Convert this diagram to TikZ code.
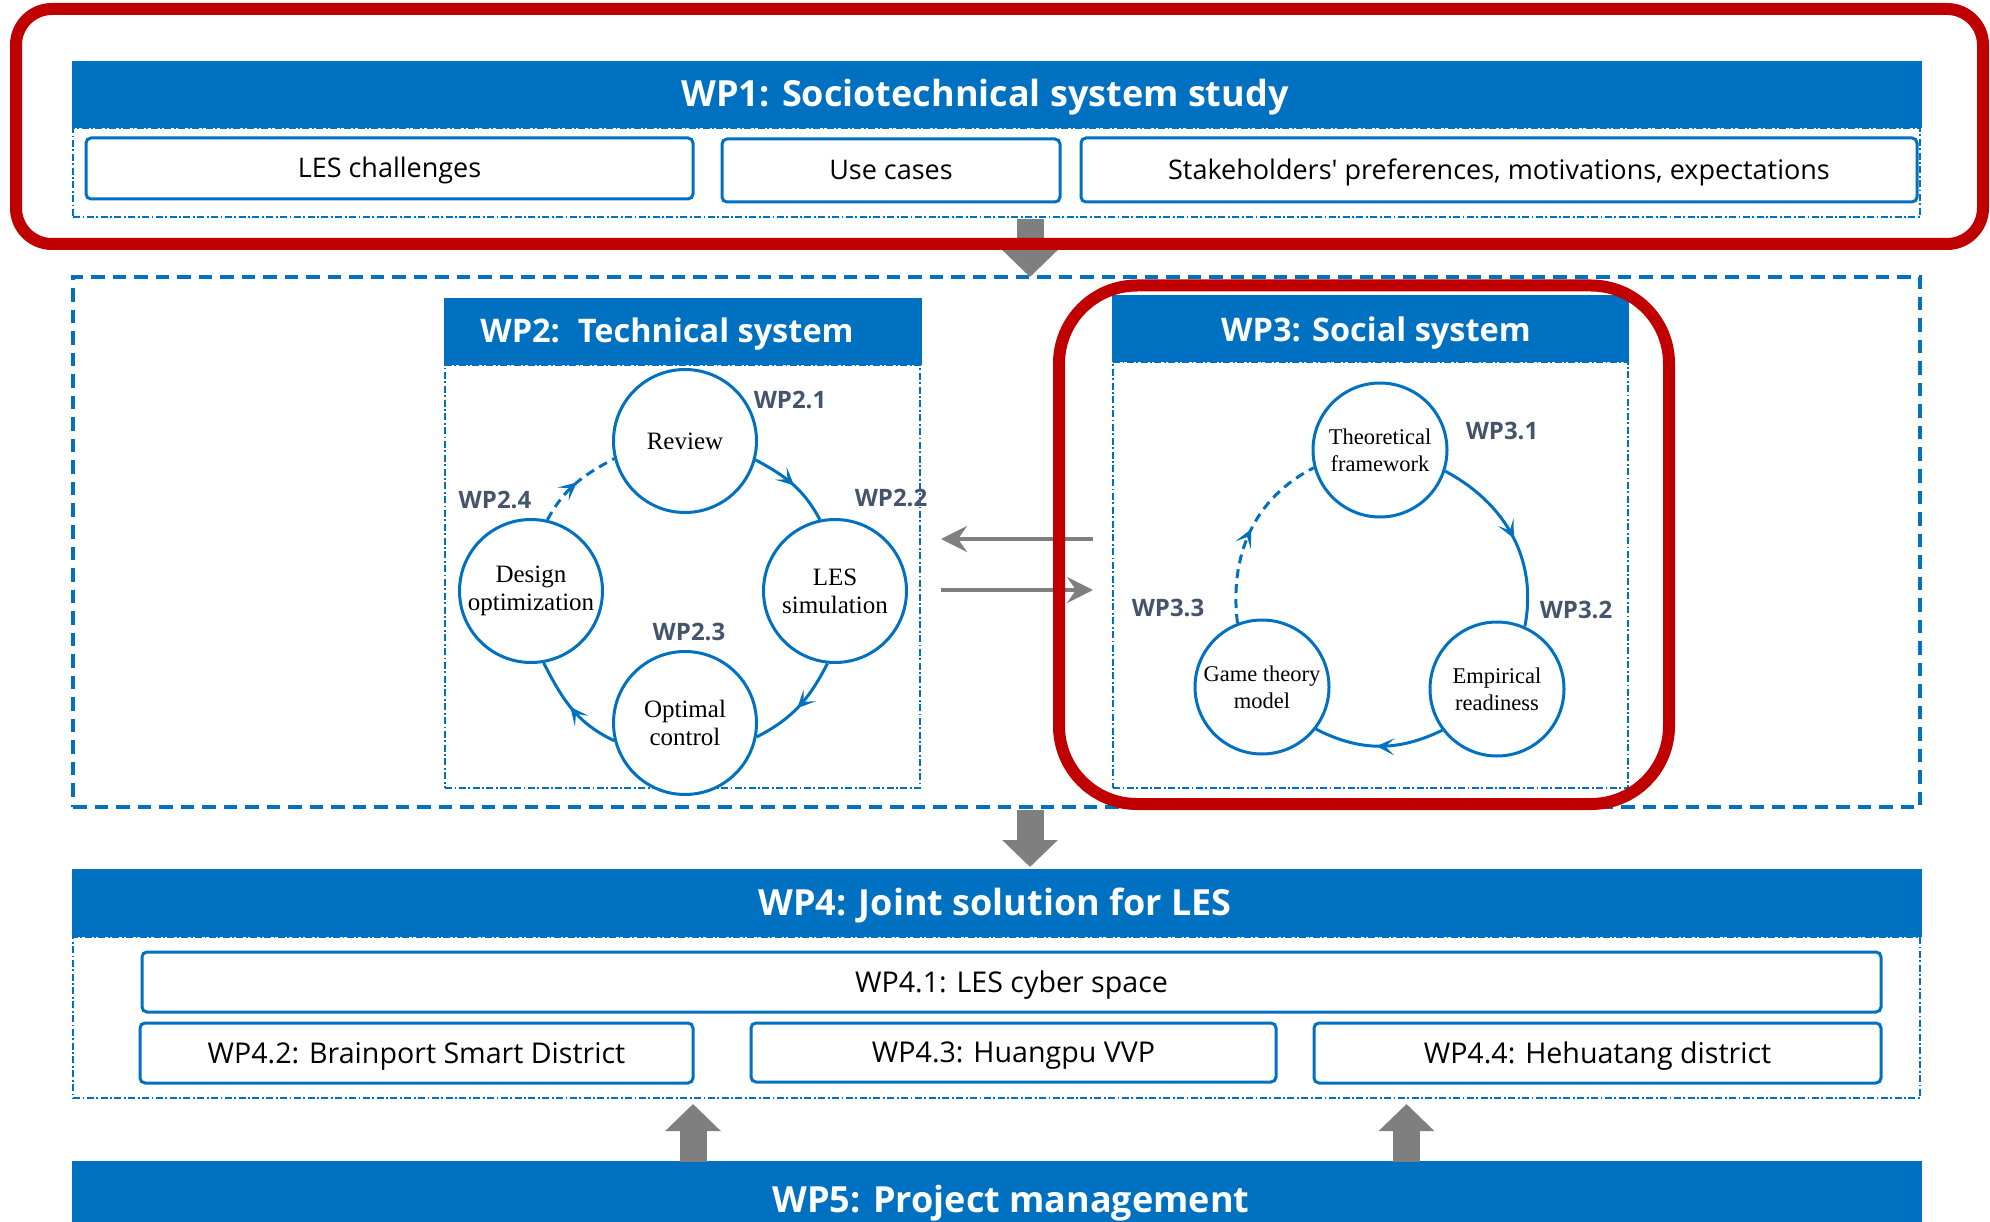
\documentclass[tikz,border=0pt]{standalone}
\usepackage{fontspec}
\setmainfont{Open Sans}
\newfontfamily\circfont{Liberation Serif}
\usetikzlibrary{arrows.meta,decorations.markings}

\definecolor{wpblue}{HTML}{0070C0}
\definecolor{wpred}{HTML}{C00000}
\definecolor{wpgray}{HTML}{7F7F7F}
\definecolor{wplabel}{HTML}{44546A}

\tikzset{
  hdr/.style={fill=wpblue, inner sep=0pt, outer sep=0pt},
  hdrtext/.style={anchor=base, text=white, inner sep=0pt,
    font=\fontsize{36}{40}\selectfont\bfseries},
  subhdrtext/.style={hdrtext, font=\fontsize{32.5}{38}\selectfont\bfseries},
  dashdotframe/.style={draw=wpblue, line width=1.6pt, inner sep=0pt,
    dash pattern=on 7pt off 2.5pt on 1.8pt off 2.5pt},
  dashframe/.style={draw=wpblue, line width=4pt, inner sep=0pt,
    dash pattern=on 13.5pt off 8pt},
  redframe/.style={draw=wpred, line width=12pt},
  itembox/.style={draw=wpblue, line width=3pt, rounded corners=5pt, fill=white,
    inner sep=0pt, text height=19pt, text depth=0pt,
    font=\fontsize{27}{30}\selectfont},
  siteitem/.style={itembox, text height=20pt, font=\fontsize{28.6}{32}\selectfont},
  cycA/.style={circle, draw=wpblue, line width=3pt, fill=white, inner sep=0pt,
    align=center, minimum size=143pt, font=\fontsize{25}{28}\selectfont\circfont},
  cycB/.style={circle, draw=wpblue, line width=3pt, fill=white, inner sep=0pt,
    align=center, minimum size=134pt, font=\fontsize{22.5}{27}\selectfont\circfont},
  wplab/.style={text=wplabel, inner sep=0pt, font=\fontsize{24}{28}\selectfont\bfseries},
  cyclelink/.style={draw=wpblue, line width=3pt, postaction={decorate},
    decoration={markings, mark=at position 0.52 with {\arrow{Stealth[length=18pt,width=17pt,inset=9pt]}}}},
  dashlink/.style={cyclelink, dash pattern=on 9pt off 6pt},
  flowarrow/.style={draw=wpgray, line width=27pt, -{Triangle[length=27pt,width=54pt]}},
  linkarrow/.style={draw=wpgray, line width=4pt, -{Stealth[length=26pt,width=26pt,inset=9pt]}}
}

\begin{document}
\begin{tikzpicture}[x=1pt, y=-1pt]
\clip (0,0) rectangle (1990,1222);

% ---- frames behind the headers ----
\node[dashdotframe, minimum width=1847pt, minimum height=89pt]  (f1) at (996.5,172.5) {};
\node[dashframe,    minimum width=1847pt, minimum height=530pt] (mid) at (996.5,542) {};
\node[dashdotframe, minimum width=475pt,  minimum height=423pt] (f2) at (682.5,576.5) {};
\node[dashdotframe, minimum width=515pt,  minimum height=426pt] (f3) at (1370.5,575) {};
\node[dashdotframe, minimum width=1847pt, minimum height=161pt] (f4) at (996.5,1017.5) {};

% ---- headers ----
\node[hdr, minimum width=1850pt, minimum height=67pt] (h1) at (997,94.5) {};
\node[hdrtext] (h1t) at (985,107) {WP1: Sociotechnical system study};
\node[hdr, minimum width=478pt, minimum height=67pt] (h2) at (683,331.5) {};
\node[subhdrtext] (h2t) at (667,343) {WP2:\hspace{0.55em}Technical system};
\node[hdr, minimum width=517pt, minimum height=67pt] (h3) at (1370.5,328.5) {};
\node[subhdrtext] (h3t) at (1376,342) {WP3: Social system};
\node[hdr, minimum width=1850pt, minimum height=68pt] (h4) at (997,903) {};
\node[hdrtext] (h4t) at (995,915) {WP4: Joint solution for LES};
\node[hdr, minimum width=1850pt, minimum height=68pt] (h5) at (997,1195) {};
\node[hdrtext] (h5t) at (1011,1212) {WP5: Project management};

% ---- WP1 items ----
\node[itembox, minimum width=607pt, minimum height=61pt] (les) at (389.5,168.5) {LES challenges};
\node[itembox, minimum width=338pt, minimum height=63pt] (uses) at (891,170.5) {Use cases};
\node[itembox, minimum width=836pt, minimum height=64pt] (stake) at (1499,170)
  {Stakeholders\textquotesingle{} preferences, motivations, expectations};

% ---- WP4 items ----
\node[siteitem, minimum width=1739pt, minimum height=60pt] (w41) at (1011.5,982) {WP4.1: LES cyber space};
\node[siteitem, minimum width=553pt, minimum height=60pt] (w42) at (416.5,1053) {WP4.2: Brainport Smart District};
\node[siteitem, minimum width=525pt, minimum height=59pt] (w43) at (1013.5,1052.5) {WP4.3: Huangpu VVP};
\node[siteitem, minimum width=567pt, minimum height=60pt] (w44) at (1597.5,1053) {WP4.4: Hehuatang district};

% ---- WP2 cycle ----
\node[cycA] (rev) at (685,441) {Review};
\node[cycA] (sim) at (835,591) {LES\\simulation};
\node[cycA] (opt) at (685,723) {Optimal\\control};
\node[cycA] (des) at (531,591) {Design\\optimization};
\draw[cyclelink] (rev.-15) to[out=-28, in=118] (sim.102);
\draw[cyclelink] (sim.-96) to[out=-117, in=27] (opt.-11);
\draw[cyclelink] (opt.194) to[out=155, in=-63] (des.-80);
\draw[dashlink]  (des.77) to[out=62, in=208] (rev.194);
\node[wplab] (l21) at (790,400) {WP2.1};
\node[wplab] (l22) at (891,498) {WP2.2};
\node[wplab] (l23) at (689,632) {WP2.3};
\node[wplab] (l24) at (495,500) {WP2.4};

% ---- WP3 cycle ----
\node[cycB] (theo) at (1380,450) {Theoretical\\framework};
\node[cycB] (emp)  at (1497,689) {Empirical\\readiness};
\node[cycB] (game) at (1262,687) {Game theory\\model};
\draw[cyclelink] (theo.-18) to[out=-28, in=79] (emp.66);
\draw[cyclelink] (emp.217) to[out=-154, in=-27] (game.-38);
\draw[dashlink]  (game.111) to[out=97, in=207] (theo.195);
\node[wplab] (l31) at (1502,431) {WP3.1};
\node[wplab] (l32) at (1576,610) {WP3.2};
\node[wplab] (l33) at (1168,608) {WP3.3};

% ---- exchange between WP2 and WP3 ----
\coordinate (xa) at (1093,539);
\coordinate (xb) at (941,539);
\coordinate (xc) at (941,590);
\coordinate (xd) at (1093,590);
\draw[linkarrow] (xa) -- (xb);
\draw[linkarrow] (xc) -- (xd);

% ---- flow between work packages ----
\coordinate (d1s) at (1030,219);
\coordinate (d1e) at (1030,277);
\coordinate (d2s) at (1030,810);
\coordinate (d2e) at (1030,867);
\coordinate (u1s) at (693,1162);
\coordinate (u1e) at (693,1104);
\coordinate (u2s) at (1406.5,1162);
\coordinate (u2e) at (1406.5,1104);
\draw[flowarrow] (d1s) -- (d1e);
\draw[flowarrow] (d2s) -- (d2e);
\draw[flowarrow] (u1s) -- (u1e);
\draw[flowarrow] (u2s) -- (u2e);

% ---- highlight frames ----
\draw[redframe, rounded corners=36pt] (16,9) rectangle (1983,244);
\draw[redframe, rounded corners=78pt] (1059,285.5) rectangle (1669,804);
\end{tikzpicture}
\end{document}
